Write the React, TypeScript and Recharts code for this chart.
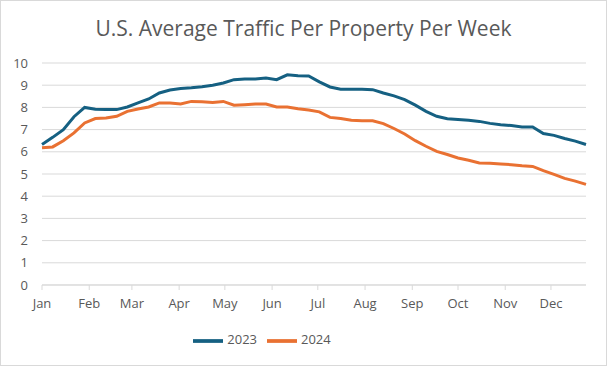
import { LineChart, Line, XAxis, YAxis, CartesianGrid, Legend } from 'recharts'

const weekDays = Array.from({ length: 52 }, (_, i) => i * 7)

const traffic2023 = [
  6.33, 6.65, 7.0, 7.58, 8.0, 7.92, 7.9, 7.9, 8.02, 8.2,
  8.38, 8.65, 8.78, 8.85, 8.88, 8.93, 9.0, 9.1, 9.25, 9.28,
  9.28, 9.32, 9.25, 9.47, 9.43, 9.42, 9.15, 8.92, 8.82, 8.82,
  8.82, 8.8, 8.65, 8.52, 8.35, 8.1, 7.82, 7.6, 7.49, 7.45,
  7.42, 7.37, 7.28, 7.22, 7.18, 7.12, 7.12, 6.82, 6.74, 6.6,
  6.48, 6.33,
]

const traffic2024 = [
  6.18, 6.22, 6.5, 6.85, 7.3, 7.5, 7.52, 7.6, 7.82, 7.93,
  8.02, 8.2, 8.2, 8.15, 8.27, 8.25, 8.22, 8.27, 8.1, 8.12,
  8.15, 8.15, 8.02, 8.02, 7.94, 7.88, 7.8, 7.55, 7.5, 7.42,
  7.4, 7.4, 7.27, 7.05, 6.8, 6.5, 6.25, 6.02, 5.88, 5.72,
  5.62, 5.5, 5.48, 5.45, 5.42, 5.37, 5.34, 5.15, 4.98, 4.8,
  4.68, 4.53,
]

const monthStarts = [0, 31, 59, 90, 120, 151, 181, 212, 243, 273, 304, 334]
const monthLabels = ['Jan', 'Feb', 'Mar', 'Apr', 'May', 'Jun', 'Jul', 'Aug', 'Sep', 'Oct', 'Nov', 'Dec']
const yTicks = [0, 1, 2, 3, 4, 5, 6, 7, 8, 9, 10]

const data = weekDays.map((day, i) => ({
  day,
  y2023: traffic2023[i],
  y2024: traffic2024[i],
}))

const FONT = '"Open Sans", "Noto Sans", sans-serif'
const TEXT = '#595959'

export default function App() {
  return (
    <div style={{
      position: 'absolute', left: 0, top: 0, width: 607, height: 366,
      background: '#fff', border: '1px solid #d9d9d9', boxSizing: 'border-box',
      fontFamily: FONT,
    }}>
      <div style={{
        position: 'absolute', top: 13, left: 0, width: 605, textAlign: 'center',
        fontSize: 21, color: TEXT,
      }}>
        U.S. Average Traffic Per Property Per Week
      </div>
      <div style={{ position: 'absolute', left: -1, top: -1 }}>
        <LineChart width={607} height={366} data={data}
          margin={{ top: 63, right: 21, left: 0, bottom: 21 }}>
          <CartesianGrid vertical={false} stroke="#d9d9d9" />
          <XAxis
            dataKey="day" type="number" domain={[0, 357]}
            ticks={monthStarts}
            tickFormatter={(v: number) => monthLabels[monthStarts.indexOf(v)]}
            stroke="#d9d9d9" tickSize={5} tickMargin={9}
            tick={{ fontSize: 13, fill: TEXT, fontFamily: FONT }}
            interval={0} height={30}
          />
          <YAxis
            domain={[0, 10]} ticks={yTicks} width={42} interval={0}
            axisLine={false} tickLine={false} tickMargin={8}
            tick={{ fontSize: 13, fill: TEXT, fontFamily: FONT }}
          />
          <Legend
            verticalAlign="bottom" height={30} iconType="plainline" iconSize={30}
            wrapperStyle={{ fontSize: 13, fontFamily: FONT, top: 326, bottom: 'auto', left: -26 }}
            formatter={(value: string) => <span style={{ color: TEXT }}>{value}</span>}
          />
          <Line type="linear" dataKey="y2023" name="2023" stroke="#156082"
            strokeWidth={3} dot={false} isAnimationActive={false} />
          <Line type="linear" dataKey="y2024" name="2024" stroke="#E97132"
            strokeWidth={3} dot={false} isAnimationActive={false} />
        </LineChart>
      </div>
    </div>
  )
}
